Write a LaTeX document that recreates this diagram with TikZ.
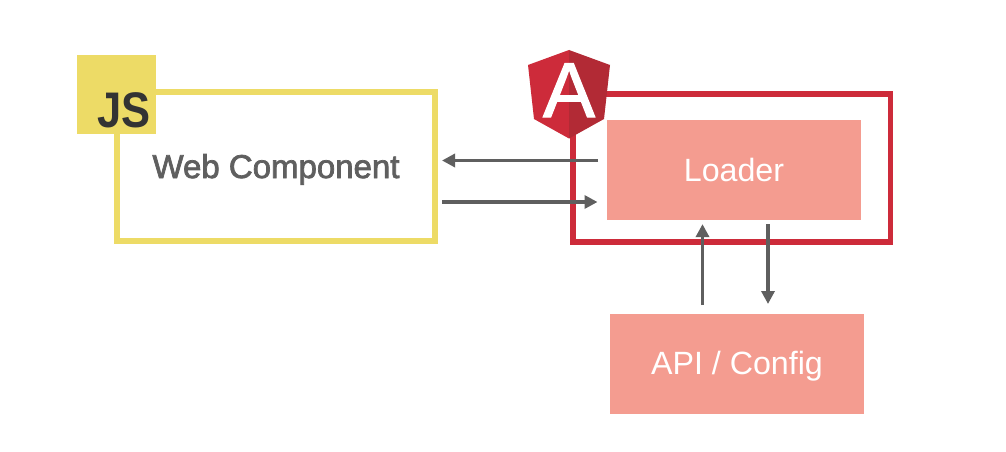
\documentclass[tikz,border=0pt]{standalone}
\usepackage{fontspec}
\setmainfont{Liberation Sans}
\newfontfamily\webfont[FakeBold=2.2]{Liberation Sans}
\newfontfamily\ngfont[FakeBold=1.5]{Liberation Sans}
\definecolor{jsyellow}{HTML}{EDDB66}
\definecolor{ngred}{HTML}{CD2B3A}
\definecolor{ngdark}{HTML}{B22A35}
\definecolor{salmon}{HTML}{F49C90}
\definecolor{inkgrey}{HTML}{5F5F5F}
\definecolor{jsink}{HTML}{333333}
\usetikzlibrary{arrows.meta}
\tikzset{
  x=1pt,y=-1pt,
  box/.style={rectangle,outer sep=0pt,inner sep=0pt,anchor=north west},
  framebox/.style={box,draw,line width=5.8pt,fill=white},
  pinkbox/.style={box,fill=salmon,text=white,font=\fontsize{32.2}{38}\selectfont},
  conn/.style={draw=inkgrey,line width=3.3pt,-{Triangle[length=13pt,width=13pt]}},
}
\begin{document}
\begin{tikzpicture}
\useasboundingbox[fill=white] (0,0) rectangle (1006,452);
% frames
\node[framebox,draw=jsyellow,minimum width=318pt,minimum height=149pt,text=inkgrey,
  text height=23pt,text depth=0pt,
  font=\webfont\fontsize{33}{38}\selectfont] (web) at (117,92) {Web Component};
\node[framebox,draw=ngred,minimum width=317.5pt,minimum height=148pt] (ngframe) at (573,94) {};
% solid boxes
\node[pinkbox,minimum width=254pt,minimum height=99.6pt,text height=22.4pt,text depth=0pt] (loader) at (607,120) {Loader};
\node[pinkbox,minimum width=254pt,minimum height=100pt,text height=20pt,text depth=0pt] (api) at (610,314) {API / Config};
% JS badge
\node[box,fill=jsyellow,minimum width=79pt,minimum height=79pt] (jsbadge) at (77,55) {};
\node[anchor=base east,inner sep=0pt,text=jsink,xscale=.87,font=\bfseries\fontsize{50}{50}\selectfont] (jstext) at (150.5,127) {JS};
% Angular shield
\fill[ngred] (569,50) -- (528,65) -- (534,119) -- (569,138.5) -- cycle;
\fill[ngdark] (569,50) -- (610,65) -- (604,119) -- (569,138.5) -- cycle;
\node[anchor=base,inner sep=0pt,text=white,font=\ngfont\fontsize{78}{78}\selectfont] (ngA) at (569,117) {A};
% connectors
\coordinate (lOut) at ([xshift=-9pt]loader.west |- 0,160.5);
\coordinate (wIn) at ([xshift=7pt]web.east |- 0,160.5);
\draw[conn] (lOut) -- (wIn);
\coordinate (wOut) at ([xshift=7pt]web.east |- 0,202);
\coordinate (lIn) at ([xshift=-9.5pt]loader.west |- 0,202);
\draw[conn] (wOut) -- (lIn);
\coordinate (aUp) at ([yshift=9pt]api.north -| 702.5,0);
\coordinate (lUp) at ([yshift=-4.5pt]loader.south -| 702.5,0);
\draw[conn] (aUp) -- (lUp);
\coordinate (lDn) at ([yshift=-4.5pt]loader.south -| 768,0);
\coordinate (aDn) at ([yshift=10pt]api.north -| 768,0);
\draw[conn] (lDn) -- (aDn);
\end{tikzpicture}
\end{document}
